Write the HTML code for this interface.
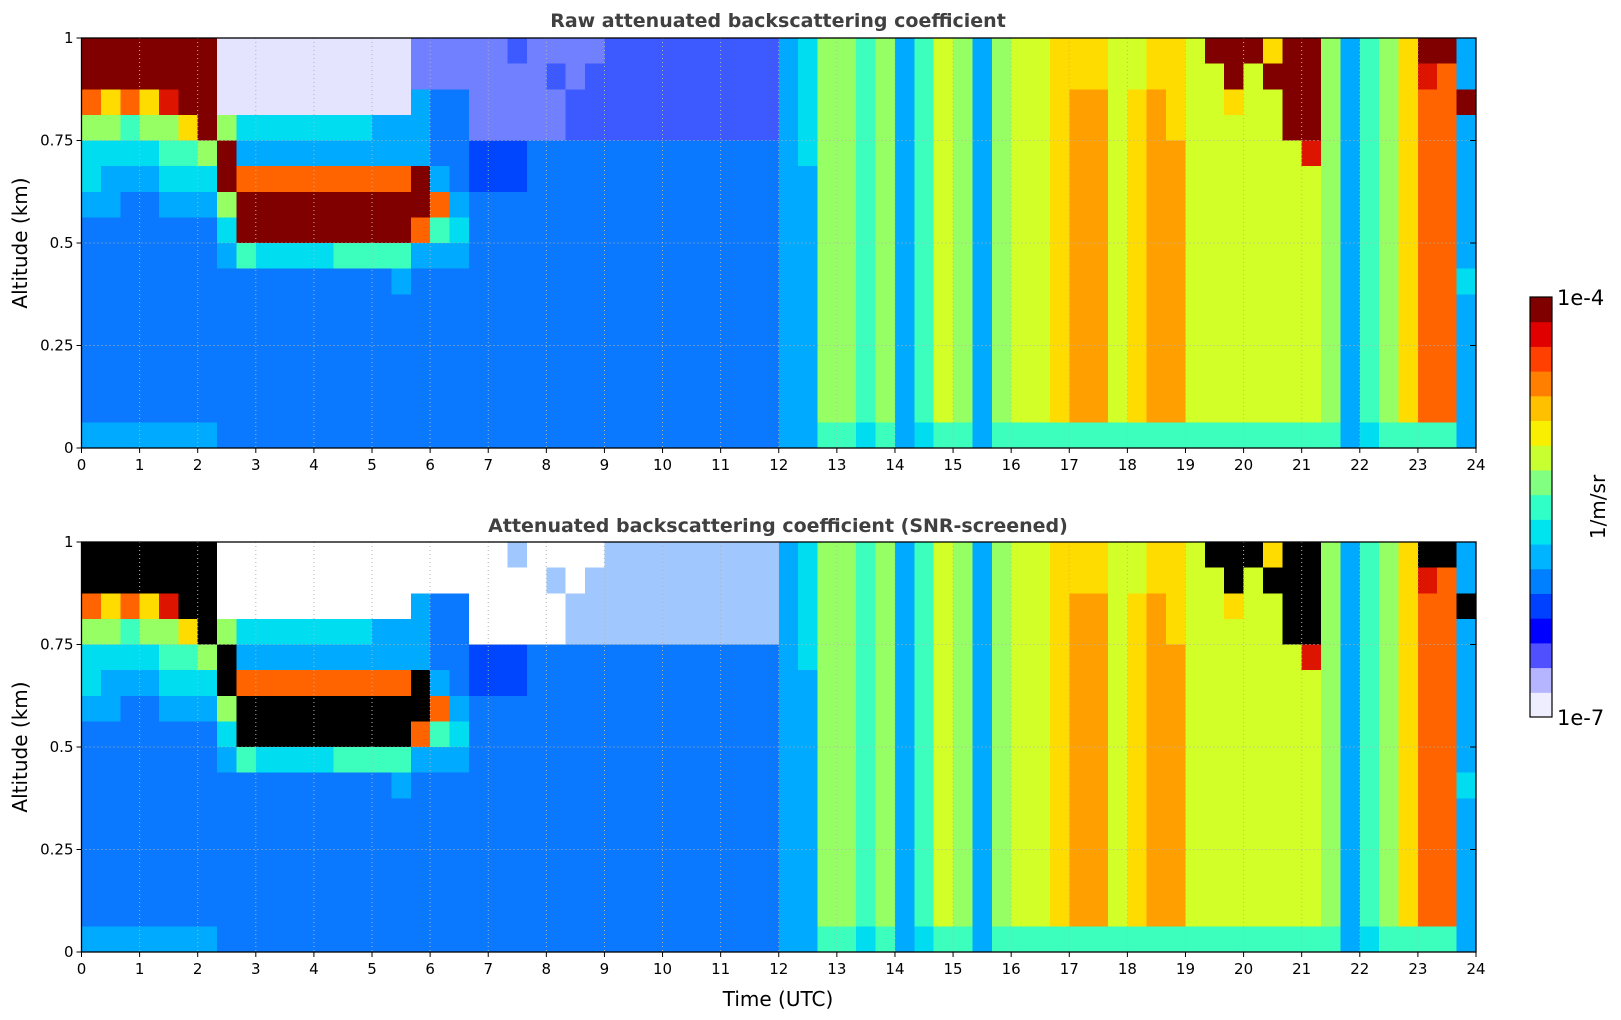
<!DOCTYPE html>
<html><head><meta charset="utf-8">
<style>
html,body{margin:0;padding:0;background:#fff;}
svg{display:block;font-family:"Liberation Sans","DejaVu Sans",sans-serif;}
</style></head>
<body>
<svg id="fig" width="1621" height="1020" viewBox="0 0 1621 1020" xmlns="http://www.w3.org/2000/svg">
<rect x="0" y="0" width="1621" height="1020" fill="#fff"/>
<text x="778" y="27" text-anchor="middle" font-size="19" font-weight="bold" fill="#404040" font-family="DejaVu Sans, sans-serif">Raw attenuated backscattering coefficient</text>
<text x="778" y="532" text-anchor="middle" font-size="19" font-weight="bold" fill="#404040" font-family="DejaVu Sans, sans-serif">Attenuated backscattering coefficient (SNR-screened)</text>
<g id="top"></g>
<g id="bot"></g>
<text x="778" y="1006" text-anchor="middle" font-size="20" fill="#000" font-family="DejaVu Sans, sans-serif">Time (UTC)</text>
<text transform="translate(27,243) rotate(-90)" text-anchor="middle" font-size="20" font-family="DejaVu Sans, sans-serif">Altitude (km)</text>
<text transform="translate(27,747) rotate(-90)" text-anchor="middle" font-size="20" font-family="DejaVu Sans, sans-serif">Altitude (km)</text>
<g id="cbar"></g>
<text x="1557" y="305" font-size="21" font-family="DejaVu Sans, sans-serif">1e-4</text>
<text x="1557" y="725" font-size="21" font-family="DejaVu Sans, sans-serif">1e-7</text>
<text transform="translate(1605,507) rotate(-90)" text-anchor="middle" font-size="20" font-family="DejaVu Sans, sans-serif">1/m/sr</text>
</svg>
<script>
// ---- data ----
const hoursTicks = [0,1,2,3,4,5,6,7,8,9,10,11,12,13,14,15,16,17,18,19,20,21,22,23,24];
const altTicks = [0,0.25,0.5,0.75,1];
const altTickLabels = ["0","0.25","0.5","0.75","1"];
const altBinTops = [1,0.9375,0.875,0.8125,0.75,0.6875,0.625,0.5625,0.5,0.4375,0.375,0.3125,0.25,0.1875,0.125,0.0625];
const columnStarts = [0,0.333,0.667,1,1.333,1.667,2,2.333,2.667,3,3.333,3.667,4,4.333,4.667,5,5.333,5.667,6,6.333,6.667,7,7.333,7.667,8,8.333,8.667,9,9.333,9.667,10,10.333,10.667,11,11.333,11.667,12,12.333,12.667,13,13.333,13.667,14,14.333,14.667,15,15.333,15.667,16,16.333,16.667,17,17.333,17.667,18,18.333,18.667,19,19.333,19.667,20,20.333,20.667,21,21.333,21.667,22,22.333,22.667,23,23.333,23.667];
// each profile: 16 altitude bins from top (1 km) to surface; level codes
const profiles = [
"cca6443222222223","cc86433222222223","cca5432222222223","cc86432222222223",
"ccb6543222222223","ccc8543222222223","cccc643222222223","www6cc6432222222",
"www43acc52222222","www43acc42222222","www43acc42222222","www43acc42222222",
"www43acc42222222","www43acc52222222","www43acc52222222","www33acc52222222",
"www33acc53222222","pp333cca32222222","pp2223a532222222","pp22223432222222",
"pppp112222222222","pppp112222222222","qppp112222222222","pppp222222222222",
"pqpp222222222222","ppqq222222222222","pqqq222222222222","qqqq222222222222",
"qqqq222222222222","qqqq222222222222","qqqq222222222222","qqqq222222222222",
"qqqq222222222222","qqqq222222222222","qqqq222222222222","qqqq222222222222",
"3333333333333333","4444433333333333","6666666666666665","6666666666666665",
"5555555555555554","6666666666666665","3333333333333333","5555555555555554",
"7777777777777775","6666666666666665","3333333333333333","6666666666666665",
"7777777777777775","7777777777777775","8888888888888885","8899999999999995",
"8899999999999995","7777777777777775","7788888888888885","8899999999999995",
"8888999999999995","7777777777777775","c777777777777775","cc87777777777775",
"c777777777777775","8c77777777777775","cccc777777777775","ccccb77777777775",
"6666666666666665","3333333333333333","5555555555555554","6666666666666665",
"8888888888888885","cbaaaaaaaaaaaaa5","caaaaaaaaaaaaaa5","33c3333334333333"
];
// ---- styles ----
const topColors = {w:"#e4e4ff",p:"#7080ff",q:"#3c5aff","0":"#0000e6","1":"#0046ff","2":"#0a78ff","3":"#00aaff","4":"#00dcf0","5":"#3cffbe","6":"#96ff64","7":"#d2ff28","8":"#ffdc00","9":"#ffa000",a:"#ff6400",b:"#dc1400",c:"#800000"};
const botColors = Object.assign({}, topColors, {w:"#ffffff",p:"#ffffff",q:"#a0c8ff",c:"#000000"});
const NS="http://www.w3.org/2000/svg";
function mk(tag,attrs,parent){const e=document.createElementNS(NS,tag);for(const k in attrs)e.setAttribute(k,attrs[k]);parent.appendChild(e);return e;}

function panel(gid,top,bottom,colors,prefix){
  const g=document.getElementById(gid);
  const L=81.5,R=1476;
  const xs=t=>L+t/24*(R-L);
  const ys=a=>bottom-a*(bottom-top);
  const binH=1/altBinTops.length;
  const cells=mk('g',{'shape-rendering':'crispEdges'},g);
  
  
  profiles.forEach((p,i)=>{
    const t0=columnStarts[i];
    const t1=i+1<columnStarts.length?columnStarts[i+1]:24;
    for(let r=0;r<p.length;r++){
      const aTop=altBinTops[r];
      const rc=mk('rect',{x:xs(t0).toFixed(2),y:ys(aTop).toFixed(2),width:(xs(t1)-xs(t0)+0.6).toFixed(2),height:(ys(aTop-binH)-ys(aTop)+0.6).toFixed(2),fill:colors[p[r]]},cells);
      
      
    }
  });
  hoursTicks.forEach(h=>{
    const ln=mk('line',{x1:xs(h),x2:xs(h),y1:top,y2:bottom,stroke:'#b4b4b4','stroke-width':1,'stroke-dasharray':'1,3'},g);
    
    
    const tk=mk('line',{x1:xs(h),x2:xs(h),y1:bottom,y2:bottom+5,stroke:'#000','stroke-width':1},g);
    
    
    const tx=mk('text',{x:xs(h),y:bottom+22,'text-anchor':'middle','font-size':15,'font-family':'DejaVu Sans, sans-serif'},g);
    tx.textContent=h;
    
    
  });
  altTicks.forEach((a,i)=>{
    const ln=mk('line',{x1:L,x2:R,y1:ys(a),y2:ys(a),stroke:'#b4b4b4','stroke-width':1,'stroke-dasharray':'1,3'},g);
    
    
    const tk=mk('line',{x1:L-5,x2:L,y1:ys(a),y2:ys(a),stroke:'#000'},g);
    
    
    const tk2=mk('line',{x1:R-6,x2:R,y1:ys(a),y2:ys(a),stroke:'#000'},g);
    
    
    const tx=mk('text',{x:L-8,y:ys(a)+5,'text-anchor':'end','font-size':15,'font-family':'DejaVu Sans, sans-serif'},g);
    tx.textContent=altTickLabels[i];
    
    
  });
  const fr=mk('rect',{x:L,y:top,width:R-L,height:bottom-top,fill:'none',stroke:'#000','stroke-width':1.3},g);
  
  
}
panel('top',38,448,topColors,'raw');
panel('bot',542,952,botColors,'screened');

const cbarStops=["#eeeeff","#b4b4ff","#5050ff","#0000ff","#0040ff","#0080ff","#00b4ff","#00e4f0","#30ffc8","#80ff80","#c8ff30","#f8f000","#ffc000","#ff8000","#ff4000","#e00000","#800000"];
(function(){
  const g=document.getElementById('cbar');
  const top=297,bottom=717,x=1530,w=22,n=cbarStops.length;
  const hh=(bottom-top)/n;
  cbarStops.forEach((c,i)=>{
    const r=mk('rect',{x:x,y:(bottom-(i+1)*hh).toFixed(2),width:w,height:(hh+0.5).toFixed(2),fill:c},g);
    
    
  });
  const f=mk('rect',{x:x,y:top,width:w,height:bottom-top,fill:'none',stroke:'#000','stroke-width':1.2},g);
  
  
})();
</script>
</body></html>
